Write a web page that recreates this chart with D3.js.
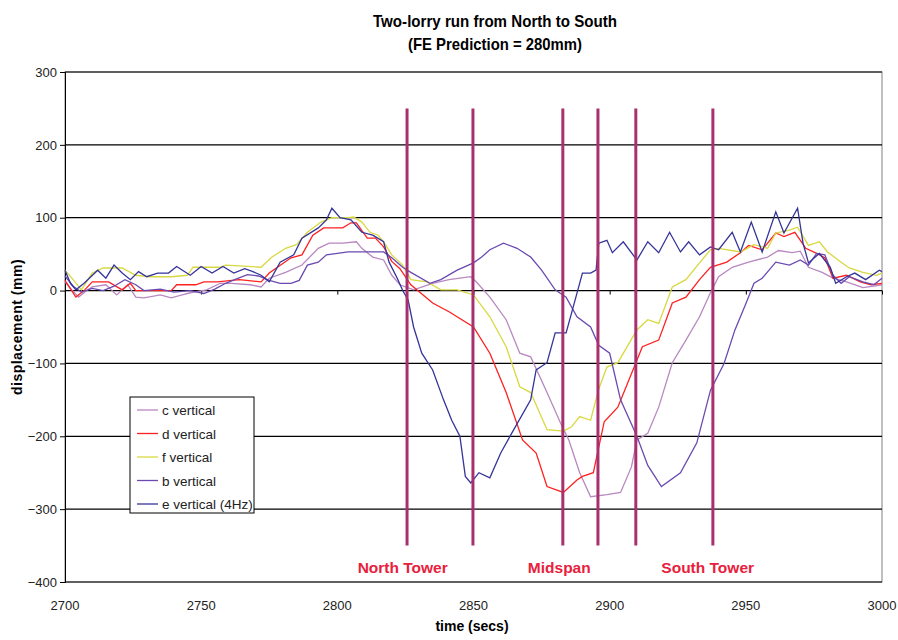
<!DOCTYPE html>
<html>
<head>
<meta charset="utf-8">
<script src="https://cdn.jsdelivr.net/npm/d3@7"></script>
<style>
  body { margin: 0; background: #fff; }
  svg text { font-family: "Liberation Sans", Arial, sans-serif; }
</style>
</head>
<body>
<div id="wrapper"></div>
<script>
// readings, [time (s), displacement (mm)]
const cVertical = [[2700,12],[2702,3],[2705,-9],[2708,0],[2710,5],[2715,8],[2719,-6],[2723,8],[2726,-9],[2729,-10],[2735,-6],[2739,-10],[2743,-6],[2746,-3],[2752,1],[2757,10],[2761,10],[2768,8],[2772,5],[2775,17],[2781,25],[2787,35],[2793,58],[2797,65],[2802,65],[2807,67],[2809,58],[2813,46],[2817,42],[2820,21],[2823,8],[2828,1],[2835,10],[2841,15],[2849,19],[2851,12],[2856,-9],[2862,-40],[2867,-86],[2871,-91],[2877,-140],[2882,-182],[2885,-205],[2889,-250],[2893,-283],[2899,-280],[2904,-277],[2908,-242],[2910,-205],[2914,-196],[2918,-160],[2923,-99],[2928,-68],[2933,-36],[2937,-3],[2940,19],[2945,32],[2951,39],[2958,46],[2962,55],[2967,52],[2970,54],[2973,32],[2978,25],[2982,17],[2987,12],[2993,4],[2997,6],[3000,8]];

const dVertical = [[2700,14],[2704,-9],[2707,0],[2710,12],[2716,12],[2721,1],[2724,10],[2726,0],[2739,0],[2741,8],[2748,8],[2751,12],[2756,12],[2764,15],[2772,12],[2775,24],[2783,45],[2787,49],[2791,76],[2795,86],[2802,86],[2805,93],[2807,93],[2811,72],[2814,72],[2817,60],[2820,40],[2823,30],[2827,8],[2835,-17],[2841,-29],[2850,-50],[2856,-86],[2862,-140],[2868,-205],[2873,-223],[2877,-269],[2883,-277],[2888,-260],[2890,-255],[2894,-250],[2898,-180],[2903,-160],[2909,-105],[2912,-77],[2918,-68],[2923,-17],[2928,-9],[2933,15],[2937,32],[2943,39],[2948,52],[2951,62],[2956,56],[2961,79],[2964,74],[2968,80],[2972,58],[2976,51],[2979,45],[2982,17],[2987,21],[2992,12],[2996,8],[3000,10]];

const fVertical = [[2700,28],[2703,15],[2706,1],[2710,24],[2714,31],[2721,31],[2726,21],[2731,19],[2739,19],[2745,21],[2747,32],[2757,32],[2759,35],[2772,32],[2776,46],[2781,58],[2785,63],[2789,80],[2794,94],[2798,100],[2804,100],[2806,101],[2809,94],[2812,80],[2815,76],[2817,67],[2820,49],[2824,35],[2827,15],[2833,12],[2838,1],[2844,1],[2850,-6],[2856,-36],[2862,-77],[2867,-132],[2871,-140],[2877,-191],[2883,-193],[2886,-187],[2889,-173],[2893,-178],[2896,-135],[2899,-105],[2903,-99],[2910,-54],[2914,-40],[2918,-45],[2923,5],[2928,15],[2933,38],[2937,56],[2940,58],[2948,53],[2953,63],[2958,58],[2961,79],[2966,83],[2969,87],[2973,62],[2977,67],[2980,53],[2985,39],[2988,31],[2993,25],[2998,21],[3000,24]];

const bVertical = [[2700,20],[2703,6],[2706,-2],[2710,3],[2714,0],[2718,6],[2722,15],[2726,8],[2729,0],[2735,2],[2740,-2],[2746,0],[2751,-4],[2755,2],[2759,10],[2763,16],[2767,22],[2771,20],[2775,14],[2779,10],[2783,10],[2786,14],[2789,35],[2793,39],[2796,49],[2804,53],[2809,53],[2817,53],[2820,45],[2824,32],[2827,25],[2834,10],[2838,15],[2844,28],[2850,38],[2853,46],[2856,56],[2861,65],[2866,58],[2871,46],[2875,28],[2880,1],[2884,-9],[2888,-36],[2893,-50],[2896,-75],[2900,-86],[2904,-150],[2910,-200],[2914,-240],[2919,-269],[2926,-250],[2932,-209],[2937,-137],[2942,-100],[2946,-54],[2950,-18],[2953,10],[2956,17],[2961,39],[2966,35],[2970,42],[2973,35],[2976,51],[2979,49],[2982,21],[2985,10],[2988,19],[2993,12],[2997,8],[3000,17]];

const eVertical = [[2700,28],[2702,10],[2704,1],[2707,10],[2712,28],[2715,17],[2718,35],[2721,24],[2724,15],[2727,26],[2730,19],[2734,24],[2738,24],[2741,33],[2746,21],[2750,33],[2754,24],[2758,33],[2762,24],[2766,30],[2769,26],[2772,21],[2775,12],[2779,39],[2784,49],[2787,72],[2793,86],[2796,97],[2798,113],[2801,100],[2805,97],[2809,80],[2813,76],[2817,67],[2819,39],[2822,17],[2824,0],[2826,-13],[2828,-50],[2831,-86],[2835,-109],[2839,-150],[2842,-178],[2845,-200],[2847,-255],[2849,-264],[2852,-250],[2856,-257],[2860,-223],[2864,-196],[2871,-150],[2873,-109],[2877,-99],[2880,-58],[2884,-58],[2886,-31],[2890,24],[2893,24],[2895,28],[2896,65],[2899,69],[2901,52],[2905,67],[2910,42],[2914,67],[2918,52],[2922,80],[2926,53],[2929,67],[2933,49],[2937,60],[2940,56],[2945,80],[2948,53],[2952,94],[2956,53],[2961,108],[2964,79],[2969,113],[2971,65],[2973,38],[2977,51],[2981,32],[2983,10],[2987,19],[2990,24],[2994,15],[2999,28],[3000,26]];

const seriesNames = ["c vertical", "d vertical", "f vertical", "b vertical", "e vertical (4Hz)"];
const seriesData = [cVertical, dVertical, fVertical, bVertical, eVertical];
const seriesColors = ["#b888c0", "#ff2020", "#d8d840", "#6a4ab0", "#34349a"];

const xTicks = [2700, 2750, 2800, 2850, 2900, 2950, 3000];
const yTicks = [-400, -300, -200, -100, 0, 100, 200, 300];

// vertical markers (time of lorry passing) and their labels
const markerTimes = [2825.6, 2849.8, 2882.8, 2895.7, 2909.6, 2937.9];
const markerTop = 250, markerBottom = -350;
const markerLabels = ["North Tower", "Midspan", "South Tower"];
const markerLabelTimes = [2824, 2881.5, 2936];

const width = 898, height = 640;
const margin = {top: 72, right: 16, bottom: 58, left: 65};

let svg = d3.select("#wrapper").append("svg")
    .attr("width", width)
    .attr("height", height);

let x = d3.scaleLinear().domain([2700, 3000]).range([margin.left, width - margin.right]);
let y = d3.scaleLinear().domain([-400, 300]).range([height - margin.bottom, margin.top]);

// plot frame
svg.append("rect")
    .attr("x", x(2700)).attr("y", y(300))
    .attr("width", x(3000) - x(2700)).attr("height", y(-400) - y(300))
    .attr("fill", "#fff").attr("stroke", "#808080");

// horizontal gridlines
svg.append("g").selectAll("line").data(yTicks).enter()
    .append("line")
    .attr("x1", x(2700)).attr("x2", x(3000))
    .attr("y1", d => y(d)).attr("y2", d => y(d))
    .attr("stroke", "#000").attr("stroke-width", 1.2);

// y axis
let yAxis = svg.append("g")
    .attr("transform", `translate(${x(2700)},0)`)
    .call(d3.axisLeft(y).tickValues(yTicks).tickSize(5).tickPadding(3));
yAxis.select(".domain").attr("stroke", "#000");
yAxis.selectAll("text").attr("font-size", 13).attr("fill", "#222");

// x axis crosses at zero, labels sit at the bottom
let xAxis = svg.append("g")
    .attr("transform", `translate(0,${y(0)})`)
    .call(d3.axisBottom(x).tickValues(xTicks).tickSize(4).tickFormat(""));
xAxis.select(".domain").remove();

svg.append("g").selectAll("text").data(xTicks).enter()
    .append("text")
    .attr("x", d => x(d))
    .attr("y", y(-400) + 28)
    .attr("text-anchor", "middle")
    .attr("font-size", 13)
    .attr("fill", "#222")
    .text(d => d);

// series lines
let line = d3.line().x(d => x(d[0])).y(d => y(d[1]));

svg.append("g").selectAll("path").data(seriesData).enter()
    .append("path")
    .attr("d", d => line(d))
    .attr("fill", "none")
    .attr("stroke", (d, i) => seriesColors[i])
    .attr("stroke-width", 1.3);

// markers
svg.append("g").selectAll("line").data(markerTimes).enter()
    .append("line")
    .attr("x1", d => x(d)).attr("x2", d => x(d))
    .attr("y1", y(markerTop)).attr("y2", y(markerBottom))
    .attr("stroke", "#a8306e").attr("stroke-width", 3);

svg.append("g").selectAll("text").data(markerLabels).enter()
    .append("text")
    .attr("x", (d, i) => x(markerLabelTimes[i]))
    .attr("y", y(-388))
    .attr("text-anchor", "middle")
    .attr("font-size", 15.5)
    .attr("font-weight", "bold")
    .attr("fill", "#e8203c")
    .text(d => d);

// legend
let legend = svg.append("g").attr("transform", "translate(130,397)");
legend.append("rect")
    .attr("width", 124).attr("height", 116)
    .attr("fill", "#fff").attr("stroke", "#000");

let legendItems = legend.selectAll("g").data(seriesNames).enter()
    .append("g")
    .attr("transform", (d, i) => `translate(0,${13 + i * 23.5})`);
legendItems.append("line")
    .attr("x1", 7).attr("x2", 28)
    .attr("stroke", (d, i) => seriesColors[i])
    .attr("stroke-width", 1.3);
legendItems.append("text")
    .attr("x", 32).attr("y", 5)
    .attr("font-size", 13.5)
    .attr("fill", "#222")
    .text(d => d);

// titles
svg.append("text")
    .attr("x", 495).attr("y", 27)
    .attr("text-anchor", "middle")
    .attr("font-size", 17).attr("font-weight", "bold")
    .attr("textLength", 244).attr("lengthAdjust", "spacingAndGlyphs")
    .text("Two-lorry run from North to South");
svg.append("text")
    .attr("x", 495).attr("y", 50)
    .attr("text-anchor", "middle")
    .attr("font-size", 17).attr("font-weight", "bold")
    .attr("textLength", 174).attr("lengthAdjust", "spacingAndGlyphs")
    .text("(FE Prediction = 280mm)");

svg.append("text")
    .attr("x", 472).attr("y", 631)
    .attr("text-anchor", "middle")
    .attr("font-size", 14).attr("font-weight", "bold")
    .text("time (secs)");

svg.append("text")
    .attr("transform", `translate(22,${(y(300) + y(-400)) / 2}) rotate(-90)`)
    .attr("text-anchor", "middle")
    .attr("font-size", 14).attr("font-weight", "bold")
    .attr("letter-spacing", 0.5)
    .text("displacement (mm)");
</script>
</body>
</html>
